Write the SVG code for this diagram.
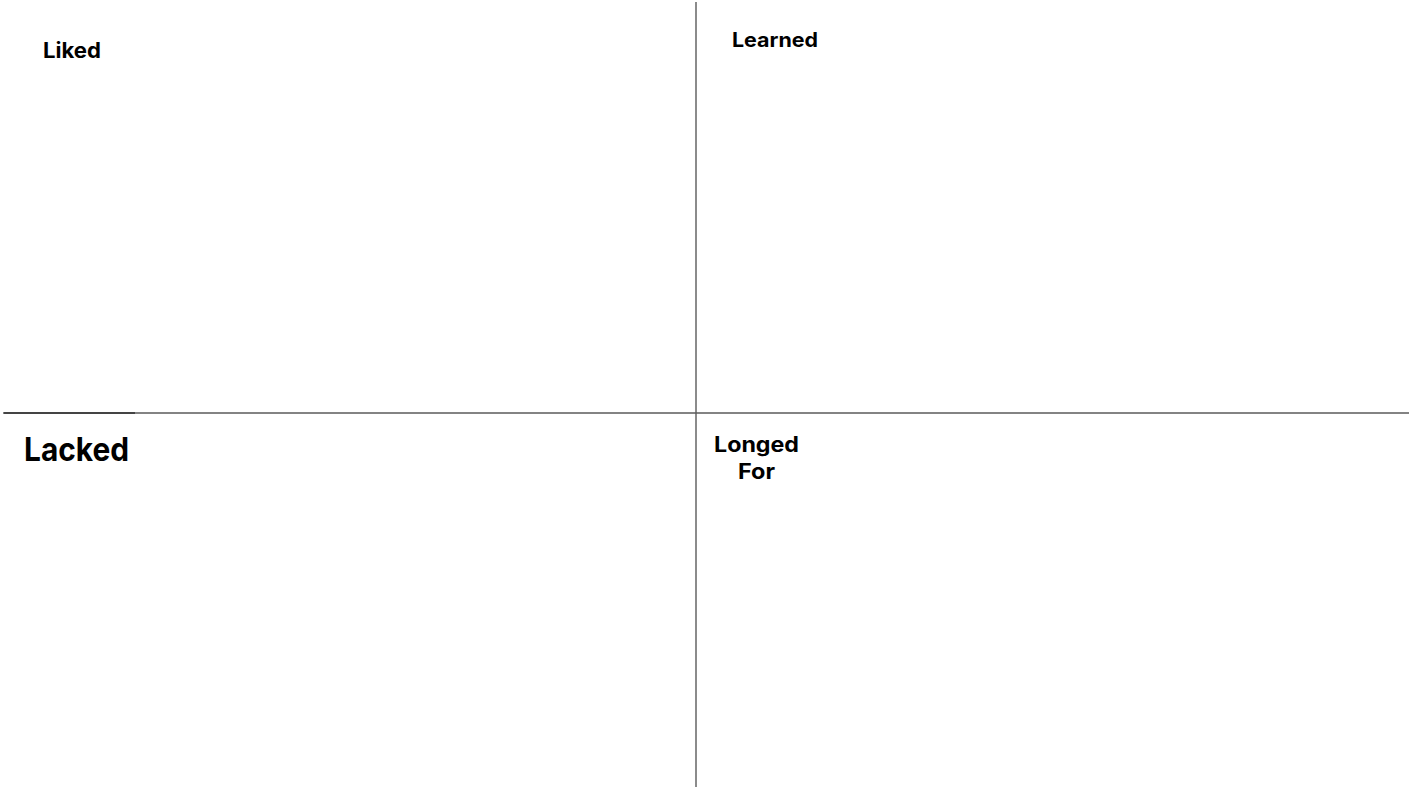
<svg xmlns="http://www.w3.org/2000/svg" width="1422" height="800" viewBox="0 0 1422 800">
<style>
.lbl{font-family:Inter,"Noto Sans","Liberation Sans",sans-serif;font-weight:700;fill:#000}
.ln{stroke:#5a5a5a;stroke-width:1.4;fill:none}
</style>
<rect width="1422" height="800" fill="#fff"/>
<g id="connectors">
<line class="ln" x1="696" y1="2" x2="696" y2="787"/>
<line class="ln" x1="3" y1="413" x2="1409" y2="413"/>
<line x1="4" y1="413" x2="135" y2="413" stroke="#444" stroke-width="2"/>
</g>
<g id="liked"><text class="lbl" x="43" y="58" font-size="21" textLength="58" lengthAdjust="spacingAndGlyphs">Liked</text></g>
<g id="learned"><text class="lbl" x="732" y="47" font-size="20" textLength="86" lengthAdjust="spacingAndGlyphs">Learned</text></g>
<g id="lacked"><text class="lbl" x="24" y="460.5" font-size="32" textLength="105" lengthAdjust="spacingAndGlyphs">Lacked</text></g>
<g id="longed-for">
<text class="lbl" x="714" y="452" font-size="21" textLength="85" lengthAdjust="spacingAndGlyphs">Longed</text>
<text class="lbl" x="738" y="479" font-size="21" textLength="37" lengthAdjust="spacingAndGlyphs">For</text>
</g>
</svg>
